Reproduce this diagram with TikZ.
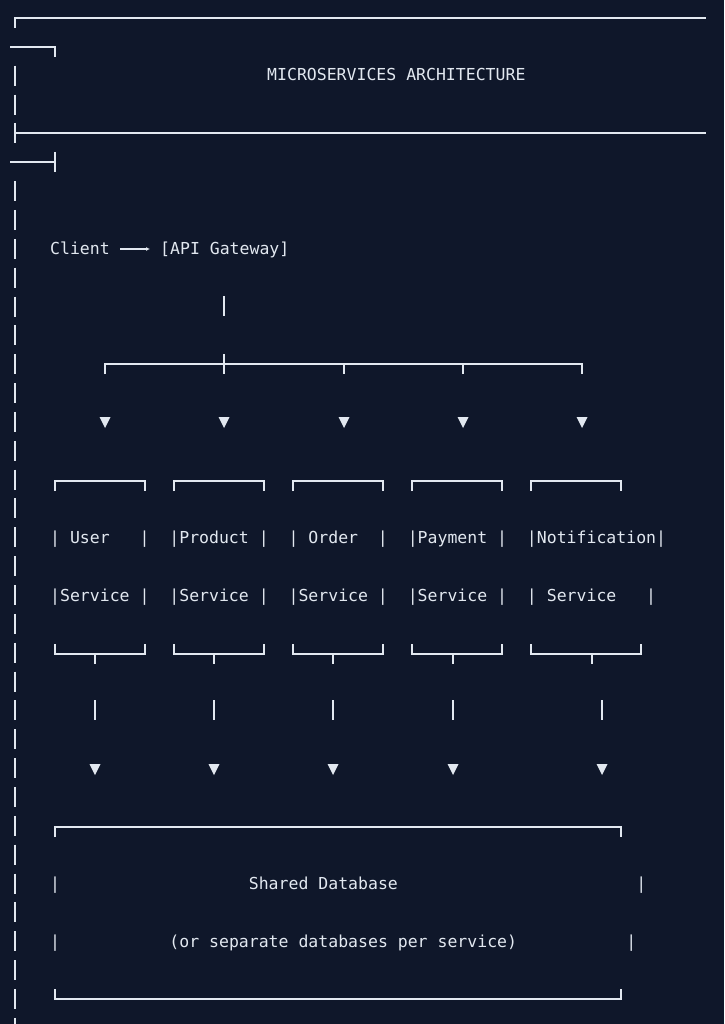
\documentclass[tikz,border=0pt]{standalone}
\usepackage{fontspec}
\usetikzlibrary{arrows.meta}
\setmonofont{DejaVu Sans Mono}
\definecolor{bg}{HTML}{0F172A}
\definecolor{fg}{HTML}{E2E8F0}
\begin{document}
\begin{tikzpicture}[x=1pt,y=-1pt,
  ln/.style={draw=fg,line width=1.4pt},
  txt/.style={text=fg,inner sep=0pt,anchor=base west,font=\fontsize{16.5}{18}\ttfamily},
  tri/.style={fill=fg,draw=none}]
\fill[bg] (0,0) rectangle (724,1024);
\useasboundingbox (0,0) rectangle (724,1024);
% left border
\foreach \k in {2,3,6,7,...,35}{
  \draw[ln] (15,{18+28.85*\k-10}) -- (15,{18+28.85*\k+10});
}
\draw[ln] (15,28) -- (15,18) -- (706,18);
\draw[ln] (10,47) -- (55,47) -- (55,57);
\draw[ln] (15,123) -- (15,143);
\draw[ln] (15,133) -- (706,133);
\draw[ln] (10,162) -- (55,162);
\draw[ln] (55,152) -- (55,172);
\node[txt] (title) at (267,81) {MICROSERVICES~ARCHITECTURE};
% client -> gateway
\node[txt] (client) at (50,254) {Client};
\node[txt] (gw) at (160,254) {[API~Gateway]};
\coordinate (a1) at (120,249);
\coordinate (a2) at (150,249);
\draw[draw=fg,line width=1.2pt,-{Latex[length=4pt,width=4pt]}] (a1) -- (a2);
% gateway fan-out
\draw[ln] (224,296) -- (224,316);
\draw[ln] (105,374) -- (105,364) -- (582,364) -- (582,374);
\draw[ln] (224,354) -- (224,374);
\foreach \x in {344,463} \draw[ln] (\x,364) -- (\x,374);
\foreach \x in {105,224,344,463,582}
  \fill[tri] (\x-5.5,417) -- (\x+5.5,417) -- (\x,428) -- cycle;
% service boxes
\foreach \a/\b in {55/145,174/264,293/383,412/502}{
  \draw[ln] (\a,491) -- (\a,481) -- (\b,481) -- (\b,491);
  \draw[ln] (\a,644) -- (\a,654) -- (\b,654) -- (\b,644);
}
\draw[ln] (531,491) -- (531,481) -- (621,481) -- (621,491);
\draw[ln] (531,644) -- (531,654) -- (641,654) -- (641,644);
\node[txt] (row1) at (50,543) {|~User~~~|~~|Product~|~~|~Order~~|~~|Payment~|~~|Notification|};
\node[txt] (row2) at (50,601) {|Service~|~~|Service~|~~|Service~|~~|Service~|~~|~Service~~~|};
\foreach \x in {95,214,333,453,592} \draw[ln] (\x,654) -- (\x,664);
\foreach \x in {95,214,333,453,602}{
  \draw[ln] (\x,700) -- (\x,720);
  \fill[tri] (\x-5.5,764) -- (\x+5.5,764) -- (\x,775) -- cycle;
}
% database
\draw[ln] (55,837) -- (55,827) -- (621,827) -- (621,837);
\draw[ln] (55,989) -- (55,999) -- (621,999) -- (621,989);
\node[txt] (db1) at (50,889) {|~~~~~~~~~~~~~~~~~~~Shared~Database~~~~~~~~~~~~~~~~~~~~~~~~|};
\node[txt] (db2) at (50,947) {|~~~~~~~~~~~(or~separate~databases~per~service)~~~~~~~~~~~|};
\end{tikzpicture}
\end{document}
